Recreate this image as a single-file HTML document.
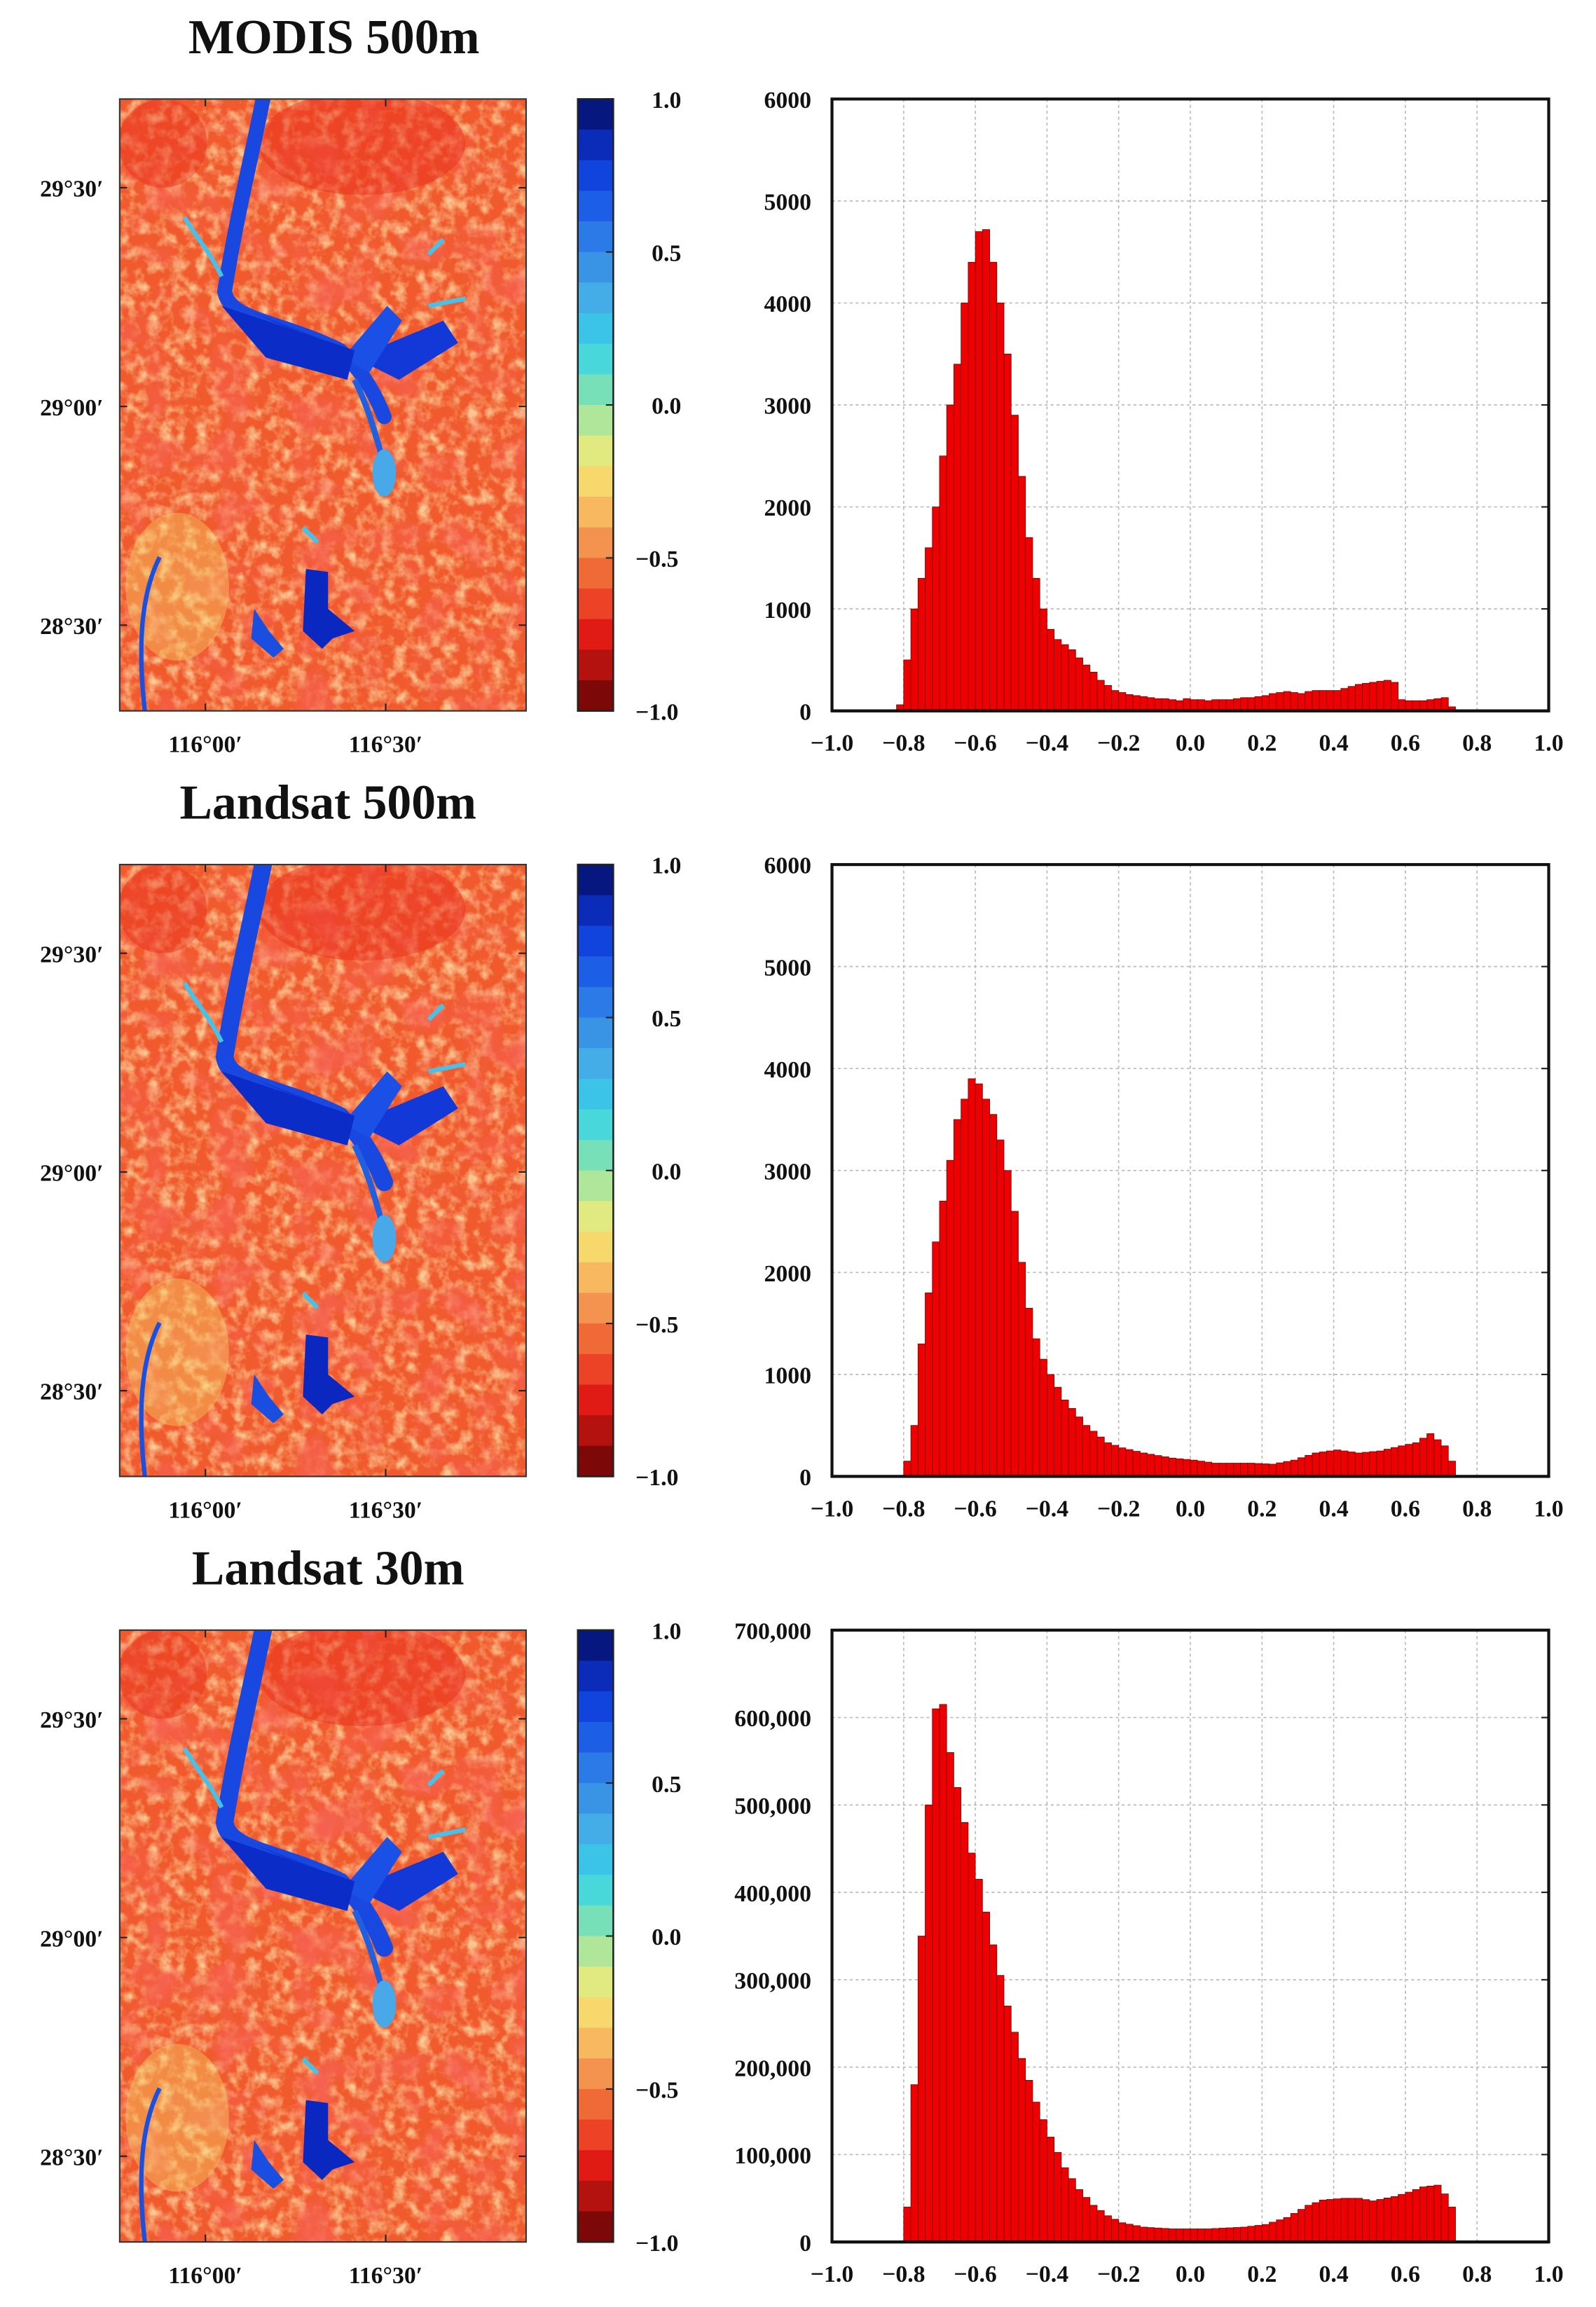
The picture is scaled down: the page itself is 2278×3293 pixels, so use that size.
<!DOCTYPE html>
<html><head><meta charset="utf-8"><style>
html,body{margin:0;padding:0;background:#fff;width:2278px;height:3293px;overflow:hidden}
svg{display:block}
text{font-family:"Liberation Serif",serif;font-weight:bold;fill:#111}
</style></head><body>
<svg id="s" width="2278" height="3293" viewBox="0 0 1080 1561" preserveAspectRatio="none" xmlns="http://www.w3.org/2000/svg">
<defs>
<filter id="nz" x="0" y="0" width="100%" height="100%">
<feTurbulence type="fractalNoise" baseFrequency="0.12" numOctaves="3" seed="3"/>
<feColorMatrix type="matrix" values="0 0 0 0 0.97  0 0 0 0 0.6  0 0 0 0 0.3  2.4 0 0 0 -1.0"/>
</filter>
<filter id="nz2" x="0" y="0" width="100%" height="100%">
<feTurbulence type="fractalNoise" baseFrequency="0.035" numOctaves="3" seed="8"/>
<feColorMatrix type="matrix" values="0 0 0 0 0.92  0 0 0 0 0.12  0 0 0 0 0.08  3 0 0 0 -1.4"/>
</filter>
<clipPath id="cp"><rect x="81" y="0" width="275" height="414"/></clipPath>
</defs>
</svg>
<script>
const S=document.getElementById('s');
let h='';
const rows=[{t:'MODIS 500m',tx:226},{t:'Landsat 500m',tx:222},{t:'Landsat 30m',tx:222}];
const cb=['#061880','#0a2cb8','#1044dc','#1c5ee6','#2c7ae8','#3a94e6','#44ace6','#3cc4e8','#48d8dc','#78e0b8','#b0e69a','#e0ea80','#f6d86c','#f8b860','#f49250','#f06a38','#ec4226','#e01a14','#b4120e','#7c0808'];
function gen(k){const out=[];for(let i=0;i<=77;i++){const x=-0.82+i*0.02;let v=0;for(let j=0;j<k.length-1;j++){if(x>=k[j][0]-1e-9&&x<=k[j+1][0]+1e-9){const t=(x-k[j][0])/(k[j+1][0]-k[j][0]);v=k[j][1]+t*(k[j+1][1]-k[j][1]);break;}}out.push([x,v]);}return out;}
const d1=[[-0.82,60],[-0.80,500],[-0.78,1000],[-0.76,1300],[-0.74,1600],[-0.72,2000],[-0.70,2500],[-0.68,3000],[-0.66,3400],[-0.64,4000],[-0.62,4400],[-0.60,4700],[-0.58,4720],[-0.56,4400],[-0.54,4000],[-0.52,3500],[-0.50,2900],[-0.48,2300],[-0.46,1700],[-0.44,1300],[-0.42,1000],[-0.40,800],[-0.38,700],[-0.36,650],[-0.34,600],[-0.32,520],[-0.30,450],[-0.28,380],[-0.26,300],[-0.24,250],[-0.22,200],[-0.20,180],[-0.18,160],[-0.16,150],[-0.14,140],[-0.12,130],[-0.10,120],[-0.08,120],[-0.06,110],[-0.04,100],[-0.02,120],[0,110],[0.02,110],[0.04,100],[0.06,110],[0.08,110],[0.10,110],[0.12,120],[0.14,130],[0.16,130],[0.18,140],[0.20,150],[0.22,170],[0.24,180],[0.26,190],[0.28,180],[0.30,170],[0.32,190],[0.34,200],[0.36,200],[0.38,200],[0.40,200],[0.42,220],[0.44,240],[0.46,260],[0.48,270],[0.50,280],[0.52,290],[0.54,300],[0.56,280],[0.58,110],[0.60,100],[0.62,100],[0.64,100],[0.66,110],[0.68,120],[0.70,130],[0.72,40]];
const d2=gen([[-0.82,0],[-0.80,150],[-0.78,500],[-0.76,1300],[-0.74,1800],[-0.72,2300],[-0.70,2700],[-0.68,3100],[-0.66,3500],[-0.64,3700],[-0.62,3900],[-0.60,3850],[-0.58,3700],[-0.56,3550],[-0.54,3300],[-0.52,3000],[-0.50,2600],[-0.48,2100],[-0.46,1650],[-0.44,1350],[-0.42,1150],[-0.40,1000],[-0.36,750],[-0.30,500],[-0.24,330],[-0.20,280],[-0.14,230],[-0.06,180],[0.0,160],[0.06,130],[0.16,130],[0.22,120],[0.28,160],[0.34,230],[0.40,260],[0.46,230],[0.52,250],[0.58,300],[0.62,330],[0.66,420],[0.70,300],[0.72,150],[0.74,30],[0.76,0],[0.82,0]]);
const d3=gen([[-0.82,0],[-0.80,40000],[-0.78,180000],[-0.76,350000],[-0.74,500000],[-0.72,610000],[-0.70,615000],[-0.68,560000],[-0.66,520000],[-0.64,480000],[-0.62,445000],[-0.60,415000],[-0.56,340000],[-0.52,270000],[-0.48,210000],[-0.44,160000],[-0.40,120000],[-0.36,85000],[-0.32,60000],[-0.28,42000],[-0.24,30000],[-0.20,22000],[-0.14,17000],[-0.06,15000],[0.04,15000],[0.14,17000],[0.20,20000],[0.26,28000],[0.32,42000],[0.36,48000],[0.42,50000],[0.46,50000],[0.50,47000],[0.56,52000],[0.60,57000],[0.64,63000],[0.68,65000],[0.70,55000],[0.72,40000],[0.74,15000],[0.76,0],[0.82,0]]);
const datas=[[d1,6000,['0','1000','2000','3000','4000','5000','6000']],[d2,6000,['0','1000','2000','3000','4000','5000','6000']],[d3,700000,['0','100,000','200,000','300,000','400,000','500,000','600,000','700,000']]];
for(let r=0;r<3;r++){
 const oy=r*518, T=67+oy, B=481+oy;
 h+=`<text x="${rows[r].tx}" y="${36+oy}" font-size="33" text-anchor="middle">${rows[r].t}</text>`;
 h+=`<g transform="translate(0,${T})" clip-path="url(#cp)">`;
 h+=`<rect x="81" y="0" width="275" height="414" fill="#f05a2c"/>`;
 h+=`<rect x="81" y="0" width="275" height="414" filter="url(#nz)"/>`;
 h+=`<rect x="81" y="0" width="275" height="414" filter="url(#nz2)" opacity="${0.75+r*0.1}"/>`;
 h+=`<ellipse cx="245" cy="30" rx="70" ry="35" fill="#e82a1c" opacity="0.45"/>`;
 h+=`<ellipse cx="110" cy="30" rx="30" ry="30" fill="#e82a1c" opacity="0.4"/>`;
 h+=`<ellipse cx="120" cy="330" rx="35" ry="50" fill="#f4d468" opacity="0.4"/>`;
 h+=`<path d="M178,0 C170,40 160,80 152,130 C155,150 190,150 230,170 C240,180 250,190 260,215" stroke="#1848e0" stroke-width="${r==0?10:12}" fill="none" stroke-linecap="round"/>`;
 h+=`<path d="M150,135 C180,150 220,160 240,175 L300,150 L310,165 L270,190 L250,180 Z" fill="#1238d8"/>`;
 h+=`<path d="M232,175 L262,140 L272,150 L250,185 Z" fill="#1a50e6"/>`;
 h+=`<path d="M150,140 L240,170 L235,190 L180,175 Z" fill="#0c2cc8"/>`;
 h+=`<path d="M240,190 C250,210 255,230 262,255" stroke="#2060e0" stroke-width="4" fill="none"/>`;
 h+=`<ellipse cx="260" cy="253" rx="8" ry="16" fill="#48a8e8"/>`;
 h+=`<path d="M207,318 L222,320 L222,345 L240,360 L225,365 L218,372 L205,360 Z" fill="#0a28c0"/>`;
 h+=`<path d="M172,345 L182,360 L192,372 L185,378 L170,365 Z" fill="#1a4ee0"/>`;
 h+=`<path d="M108,310 C98,330 92,360 98,414" stroke="#1a50e0" stroke-width="3" fill="none"/>`;
 h+=`<path d="M150,120 C140,100 130,90 125,80 M290,140 L315,135 M205,290 L215,300 M290,105 L300,95" stroke="#48c0e8" stroke-width="3" fill="none"/>`;
 h+=`</g>`;
 h+=`<rect x="81" y="${T}" width="275" height="414" fill="none" stroke="#333" stroke-width="1"/>`;
 [[127,'29°30′'],[275,'29°00′'],[423,'28°30′']].forEach(([y,l])=>{const yy=y+oy;h+=`<line x1="81" y1="${yy}" x2="86" y2="${yy}" stroke="#222"/><line x1="351" y1="${yy}" x2="356" y2="${yy}" stroke="#222"/><text x="70" y="${yy+6}" font-size="16" text-anchor="end">${l}</text>`});
 [[139,'116°00′'],[261,'116°30′']].forEach(([x,l])=>{h+=`<line x1="${x}" y1="${T}" x2="${x}" y2="${T+5}" stroke="#222"/><line x1="${x}" y1="${B-5}" x2="${x}" y2="${B}" stroke="#222"/><text x="${x}" y="${B+28}" font-size="16" text-anchor="middle">${l}</text>`});
 const ch=414/20;
 cb.forEach((c,i)=>{h+=`<rect x="391" y="${T+i*ch}" width="24" height="${ch+0.5}" fill="${c}"/>`});
 h+=`<rect x="391" y="${T}" width="24" height="414" fill="none" stroke="#222" stroke-width="1.2"/>`;
 ['1.0','0.5','0.0','\u22120.5','\u22121.0'].forEach((l,i)=>{const yy=T+i*103.5;h+=`<line x1="410" y1="${yy}" x2="415" y2="${yy}" stroke="#222"/><text x="${l.length>3?430:441}" y="${yy+6}" font-size="16">${l}</text>`});
 const [d,ym,yl]=datas[r];const X=v=>563+(v+1)*242.5;const Y=v=>B-v/ym*414;
 for(let i=1;i<10;i++){const x=563+i*48.5;h+=`<line x1="${x}" y1="${T}" x2="${x}" y2="${B}" stroke="#bbb" stroke-dasharray="2,2" stroke-width="0.8"/>`}
 yl.forEach((l,i)=>{const y=B-i*414/(yl.length-1);if(i>0&&i<yl.length-1)h+=`<line x1="563" y1="${y}" x2="1048" y2="${y}" stroke="#bbb" stroke-dasharray="2,2" stroke-width="0.8"/>`;h+=`<line x1="1043" y1="${y}" x2="1048" y2="${y}" stroke="#222"/><text x="549" y="${y+6}" font-size="16" text-anchor="end">${l}</text>`});
 d.forEach(([x,v])=>{if(v>0)h+=`<rect x="${X(x)}" y="${Y(v)}" width="4.85" height="${B-Y(v)}" fill="#ee0000" stroke="#600" stroke-width="0.35"/>`});
 h+=`<line x1="563" y1="${B}" x2="1048" y2="${B}" stroke="#111" stroke-width="2"/>`;
 h+=`<rect x="563" y="${T}" width="485" height="414" fill="none" stroke="#111" stroke-width="2"/>`;
 for(let i=0;i<=10;i++){const x=563+i*48.5;const v=(-1+i*0.2).toFixed(1).replace('-','\u2212');h+=`<text x="${x}" y="${B+27}" font-size="16" text-anchor="middle">${v=='\u22120.0'?'0.0':v}</text>`}
}
S.insertAdjacentHTML('beforeend',h);
</script>
</body></html>
